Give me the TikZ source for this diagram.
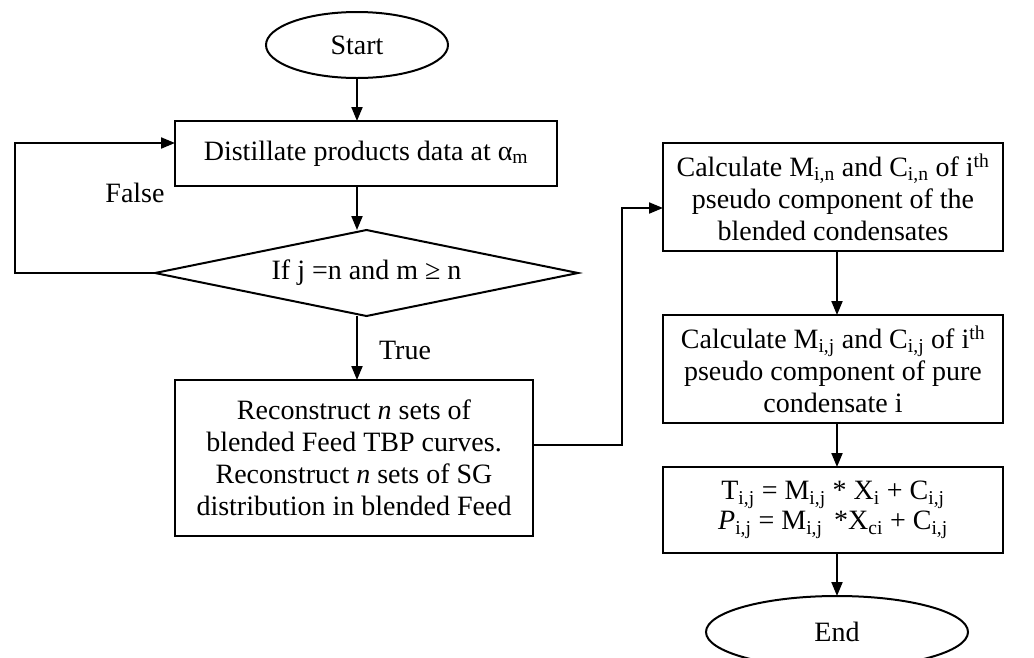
\documentclass[tikz,border=0pt]{standalone}
\usepackage{fontspec}
\setmainfont{Liberation Serif}
\usetikzlibrary{shapes.geometric,arrows.meta}
\begin{document}
\begin{tikzpicture}[x=1pt,y=-1pt,
  every node/.style={font=\fontsize{28}{32}\selectfont, inner sep=0pt, outer sep=0pt},
  box/.style={draw, rectangle, line width=2pt, align=center},
  term/.style={draw, ellipse, line width=2pt},
  decision/.style={draw, diamond, line width=2pt},
  flow/.style={line width=2pt, -{Triangle[length=14pt,width=11pt]}}
]
\useasboundingbox (0,0) rectangle (1034,657);
\clip (0,0) rectangle (1034,657);

% left column
\node[term, minimum width=182pt, minimum height=66pt] (start) at (357,45) {Start};
\node[box, minimum width=382pt, minimum height=65pt] (dist) at (366,153.5)
  {Distillate products data at α\textsubscript{m}};
\node[decision, minimum width=423pt, minimum height=86pt, aspect=4.9] (cond) at (366.5,273)
  {If j =n and m ≥ n};
\node[box, minimum width=358pt, minimum height=156pt] (recon) at (354,458)
  {Reconstruct \textit{n} sets of\\ blended Feed TBP curves.\\ Reconstruct \textit{n} sets of SG\\ distribution in blended Feed};

% right column
\node[box, minimum width=340pt, minimum height=108pt] (calcA) at (833,197)
  {Calculate M\textsubscript{i,n} and C\textsubscript{i,n} of i\textsuperscript{th}\\ pseudo component of the\\ blended condensates};
\node[box, minimum width=340pt, minimum height=108pt] (calcB) at (833,369)
  {Calculate M\textsubscript{i,j} and C\textsubscript{i,j} of i\textsuperscript{th}\\ pseudo component of pure\\ condensate i};
\node[box, minimum width=340pt, minimum height=86pt, font=\fontsize{28}{30}\selectfont] (calcC) at (833,510)
  {T\textsubscript{i,j} = M\textsubscript{i,j} * X\textsubscript{i} + C\textsubscript{i,j}\\ \textit{P}\textsubscript{i,j} = M\textsubscript{i,j} \,*X\textsubscript{ci} + C\textsubscript{i,j}};
\node[term, minimum width=262pt, minimum height=72pt] (stop) at (837,632) {End};

% labels
\node (false) at (135,193) {False};
\node (true) at (405,350) {True};

% connectors
\draw[flow] (start.south) -- (start.south |- dist.north);
\draw[flow] (dist.south -| start) -- (cond.north -| start);
\draw[flow] (cond.west) -- (15,273) |- ([yshift=10.5pt]dist.west);
\draw[flow] (cond.south -| start) -- (recon.north -| start);
\draw[flow] ([yshift=13pt]recon.east) -- ++(89,0) |- ([yshift=-11pt]calcA.west);
\draw[flow] (calcA.south -| stop) -- (calcB.north -| stop);
\draw[flow] (calcB.south -| stop) -- (calcC.north -| stop);
\draw[flow] (calcC.south -| stop) -- (stop.north);
\end{tikzpicture}
\end{document}
